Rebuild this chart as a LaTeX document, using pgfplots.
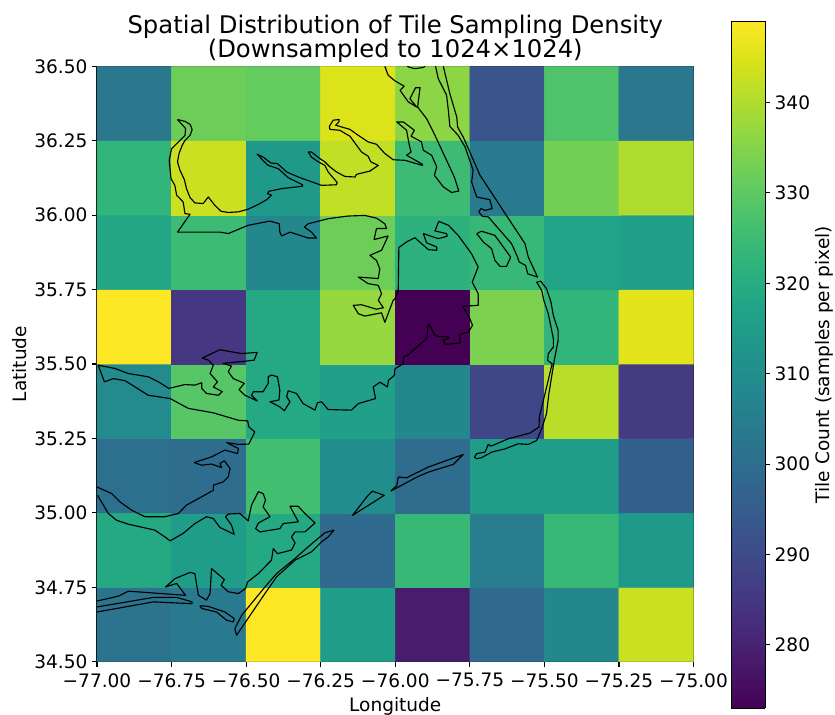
\documentclass[border=0pt]{standalone}
\usepackage{pgfplots}
\usepackage{fontspec}
\setmainfont{DejaVu Sans}
\pgfplotsset{compat=1.18}
\begin{document}
\begin{tikzpicture}
\useasboundingbox (0,0) rectangle (626.25pt,535.5pt);
\begin{axis}[
  at={(72.75pt,39.2pt)}, anchor=south west,
  scale only axis, width=447.4pt, height=446.6pt,
  xmin=-77, xmax=-75, ymin=34.5, ymax=36.5,
  axis line style={line width=0.8pt},
  tick style={black,line width=0.8pt},
  tick align=outside, major tick length=3.7pt,
  xtick pos=bottom, ytick pos=left,
  xtick={-77,-76.75,-76.5,-76.25,-76,-75.75,-75.5,-75.25,-75},
  xticklabels={−77.00,−76.75,−76.50,−76.25,−76.00,−75.75,−75.50,−75.25,−75.00},
  ytick={34.5,34.75,35,35.25,35.5,35.75,36,36.25,36.5},
  yticklabels={34.50,34.75,35.00,35.25,35.50,35.75,36.00,36.25,36.50},
  tick label style={font=\fontsize{13.9}{15}\selectfont},
  xticklabel style={yshift=-1.5pt},
  xlabel={Longitude}, ylabel={Latitude},
  xlabel style={font=\fontsize{13.9}{15}\selectfont,yshift=-0.5pt},
  ylabel style={font=\fontsize{13.9}{15}\selectfont,yshift=-1.5pt},
  title={Spatial Distribution of Tile Sampling Density\\(Downsampled to 1024×1024)},
  title style={font=\fontsize{18.2}{18.3}\selectfont,align=center,yshift=-7pt},
  colormap/viridis,
  point meta min=273, point meta max=349,
  colorbar sampled,
  colorbar style={
    samples=200,
    at={(1.0629,-0.078)}, anchor=south west,
    width=25.5pt, height=515.3pt,
    ytick={280,290,300,310,320,330,340},
    /pgf/number format/assume math mode=true,
    axis line style={line width=0.8pt},
    tick style={black,line width=0.8pt},
    tick align=outside,
    major tick length=3.7pt,
    ytick pos=right, yticklabel pos=right,
    yticklabel style={font=\fontsize{13.9}{15}\selectfont},
    ylabel={Tile Count (samples per pixel)},
    ylabel style={font=\fontsize{13.9}{15}\selectfont,yshift=3pt},
  },
  coast/.style={black,line width=0.85pt,line join=round,forget plot,mark=none},
]
\addplot[matrix plot*,point meta=explicit,mesh/cols=8,mesh/rows=8,forget plot] table[meta=c] {
x y c
-76.875 34.625 302
-76.625 34.625 304
-76.375 34.625 349
-76.125 34.625 315
-75.875 34.625 279
-75.625 34.625 299
-75.375 34.625 308
-75.125 34.625 343
-76.875 34.875 319
-76.625 34.875 315
-76.375 34.875 319
-76.125 34.875 299
-75.875 34.875 324
-75.625 34.875 305
-75.375 34.875 324
-75.125 34.875 314
-76.875 35.125 301
-76.625 35.125 300
-76.375 35.125 326
-76.125 35.125 310
-75.875 35.125 300
-75.625 35.125 315
-75.375 35.125 315
-75.125 35.125 296
-76.875 35.375 309
-76.625 35.375 329
-76.375 35.375 319
-76.125 35.375 316
-75.875 35.375 308
-75.625 35.375 289
-75.375 35.375 341
-75.125 35.375 286
-76.875 35.625 349
-76.625 35.625 285
-76.375 35.625 319
-76.125 35.625 337
-75.875 35.625 273
-75.625 35.625 334
-75.375 35.625 323
-75.125 35.625 346
-76.875 35.875 318
-76.625 35.875 325
-76.375 35.875 308
-76.125 35.875 332
-75.875 35.875 322
-75.625 35.875 324
-75.375 35.875 317
-75.125 35.875 316
-76.875 36.125 323
-76.625 36.125 343
-76.375 36.125 314
-76.125 36.125 342
-75.875 36.125 325
-75.625 36.125 304
-75.375 36.125 333
-75.125 36.125 340
-76.875 36.375 303
-76.625 36.375 332
-76.375 36.375 331
-76.125 36.375 345
-75.875 36.375 336
-75.625 36.375 293
-75.375 36.375 328
-75.125 36.375 303
};
% Albemarle mainland loop
\addplot[coast] coordinates {
(-76.730,36.321)(-76.705,36.315)(-76.687,36.304)(-76.681,36.287)(-76.688,36.268)(-76.705,36.251)(-76.714,36.235)(-76.725,36.207)(-76.730,36.179)(-76.722,36.151)(-76.707,36.119)(-76.700,36.089)(-76.688,36.059)(-76.672,36.041)(-76.644,36.039)(-76.627,36.061)(-76.605,36.033)(-76.584,36.013)(-76.560,36.009)(-76.526,36.011)(-76.493,36.020)(-76.459,36.036)(-76.431,36.052)(-76.415,36.067)(-76.428,36.072)(-76.424,36.080)(-76.381,36.089)(-76.311,36.097)(-76.311,36.102)(-76.359,36.126)(-76.392,36.156)(-76.426,36.167)(-76.439,36.179)(-76.463,36.205)(-76.443,36.195)(-76.417,36.175)(-76.395,36.173)(-76.364,36.145)(-76.325,36.128)(-76.247,36.100)(-76.197,36.102)(-76.195,36.110)(-76.225,36.145)(-76.236,36.167)(-76.258,36.179)(-76.281,36.195)(-76.292,36.212)(-76.281,36.212)(-76.253,36.190)(-76.236,36.179)(-76.219,36.162)(-76.197,36.145)(-76.169,36.130)(-76.135,36.128)(-76.130,36.137)(-76.085,36.148)(-76.057,36.167)(-76.082,36.179)(-76.091,36.198)(-76.113,36.212)(-76.130,36.235)(-76.152,36.265)(-76.186,36.285)(-76.219,36.288)(-76.221,36.298)(-76.208,36.319)(-76.188,36.321)(-76.189,36.313)(-76.200,36.302)(-76.152,36.288)(-76.124,36.268)(-76.091,36.246)(-76.063,36.238)(-76.035,36.207)(-76.007,36.186)(-75.967,36.184)(-75.909,36.167)(-75.909,36.171)(-75.962,36.201)(-75.947,36.212)(-75.954,36.240)(-75.962,36.285)(-75.995,36.313)(-75.973,36.313)(-75.936,36.285)(-75.947,36.265)(-75.912,36.246)(-75.906,36.218)(-75.878,36.201)(-75.861,36.162)(-75.869,36.134)(-75.839,36.095)(-75.811,36.076)(-75.787,36.081)(-75.802,36.128)(-75.833,36.195)(-75.867,36.268)(-75.895,36.324)(-75.925,36.363)(-75.917,36.428)(-75.932,36.428)(-75.951,36.391)(-75.928,36.363)(-75.956,36.380)(-75.984,36.419)(-75.970,36.433)(-76.001,36.451)(-76.024,36.470)(-76.035,36.500)
};
\addplot[coast] coordinates {
(-75.96,36.500)(-75.951,36.496)(-75.934,36.492)(-75.906,36.496)(-75.90,36.500)
};
% Outer Banks
\addplot[coast] coordinates {
(-75.839,36.500)(-75.817,36.408)(-75.794,36.330)(-75.791,36.296)(-75.772,36.262)(-75.716,36.134)(-75.565,35.904)(-75.554,35.859)(-75.523,35.792)(-75.556,35.803)(-75.563,35.831)(-75.585,35.843)(-75.590,35.859)(-75.610,35.904)(-75.688,35.994)(-75.708,35.996)(-75.720,36.011)(-75.713,36.022)(-75.699,36.016)(-75.675,36.022)(-75.683,36.052)(-75.699,36.055)(-75.727,36.061)(-75.744,36.111)(-75.739,36.151)(-75.766,36.229)(-75.789,36.268)(-75.817,36.298)(-75.822,36.352)(-75.828,36.403)(-75.856,36.459)(-75.865,36.500)
};
% Roanoke island
\addplot[coast] coordinates {
(-75.727,35.938)(-75.711,35.946)(-75.666,35.932)(-75.613,35.859)(-75.627,35.828)(-75.649,35.828)(-75.666,35.848)(-75.677,35.887)(-75.705,35.910)(-75.727,35.938)
};
% Pamlico mainland: from the lake shore round to the western edge
\addplot[coast] coordinates {
(-75.854,35.979)(-75.822,35.966)(-75.789,35.932)(-75.744,35.870)(-75.722,35.826)(-75.742,35.775)(-75.722,35.736)(-75.722,35.697)(-75.774,35.694)(-75.750,35.652)(-75.741,35.630)(-75.755,35.607)(-75.783,35.600)(-75.783,35.570)(-75.833,35.566)(-75.839,35.579)(-75.820,35.588)(-75.822,35.593)(-75.850,35.591)(-75.867,35.596)(-75.884,35.630)(-75.889,35.635)(-75.895,35.585)(-75.934,35.551)(-75.959,35.529)(-75.973,35.523)(-75.973,35.501)(-76.001,35.484)(-76.003,35.462)(-76.023,35.445)(-76.026,35.423)(-76.051,35.439)(-76.074,35.423)(-76.066,35.384)(-76.124,35.367)(-76.147,35.345)(-76.225,35.347)(-76.247,35.373)(-76.261,35.370)(-76.269,35.345)(-76.309,35.367)(-76.331,35.401)(-76.359,35.410)(-76.364,35.390)(-76.353,35.373)(-76.372,35.343)(-76.387,35.356)(-76.420,35.373)(-76.390,35.379)(-76.387,35.412)(-76.395,35.457)(-76.415,35.463)(-76.426,35.457)(-76.426,35.435)(-76.443,35.407)(-76.476,35.407)(-76.482,35.395)(-76.463,35.376)(-76.504,35.395)(-76.524,35.414)(-76.506,35.435)(-76.543,35.451)(-76.560,35.474)(-76.549,35.493)(-76.577,35.502)(-76.498,35.510)(-76.473,35.513)(-76.463,35.539)(-76.515,35.535)(-76.588,35.548)(-76.647,35.520)(-76.627,35.513)(-76.610,35.496)(-76.621,35.468)(-76.596,35.440)(-76.610,35.423)(-76.580,35.407)(-76.593,35.395)(-76.633,35.401)(-76.649,35.418)(-76.649,35.437)(-76.672,35.429)(-76.705,35.431)(-76.759,35.418)(-76.794,35.440)(-76.828,35.457)(-76.895,35.468)(-76.940,35.485)(-76.996,35.496)(-76.975,35.440)(-76.945,35.451)(-76.906,35.444)(-76.828,35.395)(-76.755,35.384)(-76.694,35.351)(-76.610,35.336)(-76.526,35.311)(-76.495,35.309)(-76.491,35.289)(-76.471,35.272)(-76.491,35.231)(-76.526,35.230)(-76.565,35.236)(-76.526,35.216)(-76.529,35.199)(-76.571,35.211)(-76.616,35.188)(-76.674,35.169)(-76.649,35.160)(-76.616,35.164)(-76.582,35.152)(-76.588,35.166)(-76.573,35.175)(-76.554,35.149)(-76.560,35.121)(-76.577,35.104)(-76.610,35.093)(-76.610,35.076)(-76.649,35.054)(-76.700,35.026)(-76.727,34.998)(-76.772,34.987)(-76.839,34.987)(-76.884,35.009)(-76.923,35.037)(-76.951,35.065)(-76.996,35.085)(-77.000,35.088)
};
% Lake-side shore, joined back to the Albemarle mainland
\addplot[coast] coordinates {
(-75.854,35.979)(-75.867,35.947)(-75.828,35.938)(-75.826,35.929)(-75.856,35.921)(-75.906,35.938)(-75.895,35.907)(-75.861,35.893)(-75.861,35.882)(-75.889,35.884)(-75.934,35.924)(-75.962,35.910)(-75.988,35.891)(-75.990,35.747)(-76.001,35.719)(-76.007,35.714)(-76.035,35.640)(-76.046,35.672)(-76.102,35.661)(-76.124,35.669)(-76.141,35.697)(-76.113,35.699)(-76.063,35.684)(-76.040,35.689)(-76.057,35.714)(-76.046,35.736)(-76.057,35.764)(-76.091,35.770)(-76.124,35.792)(-76.057,35.787)(-76.052,35.820)(-76.063,35.848)(-76.085,35.865)(-76.046,35.882)(-76.024,35.930)(-76.071,35.918)(-76.063,35.955)(-76.029,35.955)(-76.035,35.971)(-76.063,35.990)(-76.102,35.999)(-76.158,35.997)(-76.225,35.988)(-76.292,35.971)(-76.305,35.960)(-76.281,35.943)(-76.264,35.923)(-76.292,35.923)(-76.353,35.943)(-76.381,35.930)(-76.387,35.943)(-76.389,35.971)(-76.420,35.980)(-76.493,35.966)(-76.560,35.938)(-76.588,35.943)(-76.730,35.943)(-76.688,36.003)(-76.705,36.005)(-76.711,36.044)(-76.733,36.067)(-76.739,36.100)(-76.752,36.123)(-76.758,36.184)(-76.750,36.223)(-76.722,36.251)(-76.705,36.268)(-76.703,36.291)(-76.730,36.321)
};
% Core sound to Neuse
\addplot[coast] coordinates {
(-76.998,35.059)(-76.962,34.998)(-76.934,34.975)(-76.895,34.962)(-76.806,34.942)(-76.772,34.919)(-76.755,34.906)(-76.711,34.931)(-76.672,34.964)(-76.633,34.987)(-76.610,34.981)(-76.588,34.951)(-76.540,34.928)(-76.549,34.959)(-76.569,34.987)(-76.560,34.996)(-76.521,34.998)(-76.493,34.973)(-76.482,35.026)(-76.459,35.071)(-76.443,35.065)(-76.435,35.043)(-76.443,35.020)(-76.420,34.987)(-76.459,34.966)(-76.468,34.947)(-76.454,34.936)(-76.387,34.947)(-76.376,34.964)(-76.325,34.970)(-76.353,35.022)(-76.325,35.022)(-76.303,34.998)(-76.269,34.966)(-76.303,34.936)(-76.336,34.936)(-76.348,34.919)(-76.336,34.899)(-76.348,34.875)(-76.395,34.863)(-76.409,34.880)(-76.415,34.841)(-76.459,34.796)(-76.495,34.768)(-76.502,34.746)(-76.526,34.729)(-76.560,34.735)(-76.584,34.757)(-76.573,34.776)(-76.616,34.813)(-76.621,34.729)(-76.633,34.707)(-76.660,34.723)(-76.672,34.796)(-76.688,34.800)(-76.739,34.779)(-76.770,34.751)(-76.733,34.763)(-76.703,34.723)(-76.895,34.737)(-76.929,34.720)(-77.000,34.704)
};
\addplot[coast] coordinates {
(-77.000,34.684)(-76.811,34.716)(-76.733,34.716)(-76.681,34.701)(-76.681,34.695)(-76.811,34.701)(-77.000,34.667)
};
\addplot[coast] coordinates {
(-76.655,34.688)(-76.627,34.686)(-76.571,34.667)(-76.540,34.645)(-76.543,34.634)(-76.565,34.639)(-76.599,34.667)(-76.649,34.679)(-76.655,34.688)
};
\addplot[coast] coordinates {
(-76.205,34.942)(-76.236,34.933)(-76.253,34.919)(-76.292,34.886)(-76.336,34.847)(-76.398,34.796)(-76.437,34.751)(-76.515,34.656)(-76.538,34.611)(-76.532,34.589)(-76.498,34.639)(-76.437,34.729)(-76.398,34.785)(-76.336,34.841)(-76.281,34.869)(-76.247,34.903)(-76.225,34.919)(-76.205,34.942)
};
\addplot[coast] coordinates {
(-76.144,34.991)(-76.113,35.031)(-76.096,35.053)(-76.077,35.073)(-76.037,35.059)(-76.144,34.991)
};
\addplot[coast] coordinates {
(-76.015,35.073)(-75.995,35.092)(-75.990,35.120)(-75.962,35.118)(-75.889,35.154)(-75.772,35.196)(-75.805,35.163)(-75.889,35.137)(-75.928,35.120)(-76.015,35.073)
};
\addplot[coast] coordinates {
(-75.735,35.187)(-75.727,35.199)(-75.699,35.204)(-75.688,35.230)(-75.679,35.224)(-75.621,35.249)(-75.549,35.268)(-75.518,35.288)(-75.517,35.322)(-75.498,35.400)(-75.474,35.501)(-75.489,35.512)(-75.487,35.535)(-75.470,35.557)(-75.470,35.585)(-75.487,35.669)(-75.502,35.714)(-75.509,35.747)(-75.526,35.775)(-75.512,35.778)(-75.493,35.753)(-75.478,35.708)(-75.470,35.663)(-75.454,35.613)(-75.454,35.579)(-75.467,35.512)(-75.485,35.400)(-75.493,35.333)(-75.509,35.283)(-75.526,35.243)(-75.554,35.230)(-75.588,35.232)(-75.632,35.215)(-75.677,35.204)(-75.711,35.185)(-75.727,35.182)(-75.735,35.187)
};
\end{axis}
\end{tikzpicture}
\end{document}
